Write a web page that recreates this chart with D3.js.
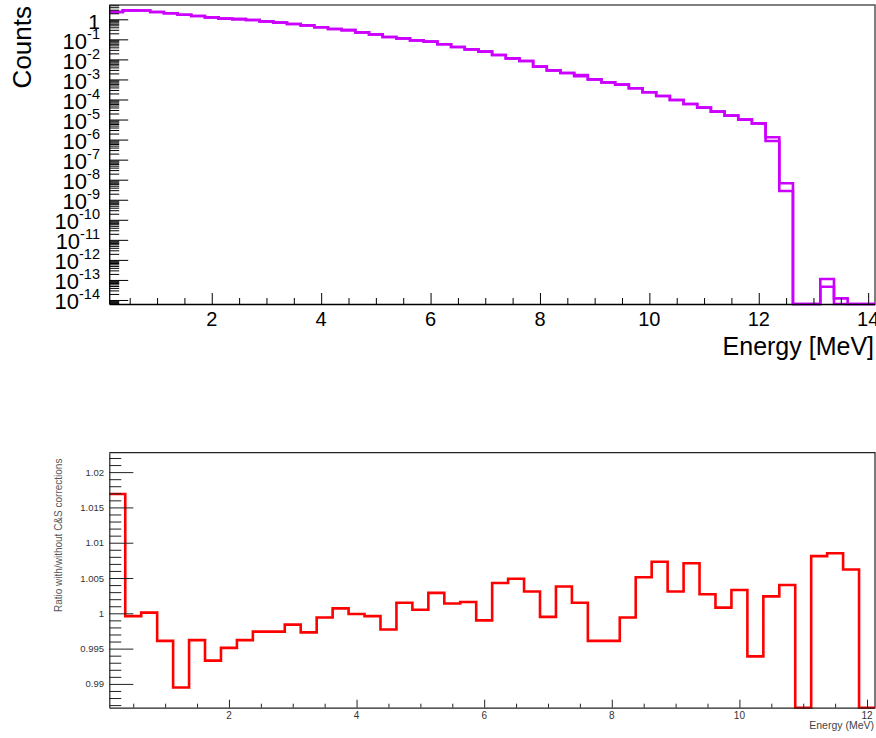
<!DOCTYPE html>
<html><head><meta charset="utf-8">
<script src="https://cdn.jsdelivr.net/npm/d3@7"></script>
<style>
body{margin:0;background:#fff}
svg{display:block}
text{font-family:"Liberation Sans",Arial,Helvetica,sans-serif}
</style>
</head><body>
<svg id="c" width="876" height="738"></svg>
<script>
// ---------- DATA ----------
const energyEdges = [0.125,0.375,0.625,0.875,1.125,1.375,1.625,1.875,2.125,2.375,2.625,2.875,3.125,3.375,3.625,3.875,
  4.125,4.375,4.625,4.875,5.125,5.375,5.625,5.875,6.125,6.375,6.625,6.875,7.125,7.375,7.625,7.875,
  8.125,8.375,8.625,8.875,9.125,9.375,9.625,9.875,10.125,10.375,10.625,10.875,11.125,11.375,11.625,11.875,
  12.125,12.375,12.625,12.875,13.125,13.375,13.625,13.875,14.125];

const countsWith = [2.31,2.80,2.75,2.31,1.99,1.70,1.46,1.25,1.08,1.02,
  0.92,0.79,0.68,0.58,0.50,0.40,0.33,0.29,0.224,0.178,
  0.131,0.112,0.0893,0.0766,0.0565,0.0415,0.0318,0.0243,0.0166,0.0113,
  0.0083,0.00434,0.00282,0.00209,0.00166,0.00101,7.18e-4,5.50e-4,3.61e-4,2.28e-4,
  1.50e-4,9.44e-5,5.97e-5,3.92e-5,2.47e-5,1.56e-5,9.86e-6,6.47e-6,1.30e-6,6.6e-9,
  0,0,1.12e-13,1.2e-14,0,0];

const countsWithout = [2.31,2.80,2.75,2.31,1.99,1.70,1.46,1.25,1.08,1.02,
  0.92,0.79,0.68,0.58,0.50,0.40,0.33,0.29,0.224,0.178,
  0.131,0.112,0.0893,0.0766,0.0565,0.0415,0.0318,0.0243,0.0166,0.0113,
  0.0083,0.00434,0.00282,0.00209,0.00145,0.00101,7.18e-4,5.50e-4,3.61e-4,2.28e-4,
  1.50e-4,9.44e-5,5.97e-5,3.92e-5,2.47e-5,1.56e-5,9.86e-6,6.47e-6,8.5e-7,2.75e-9,
  0,0,4.6e-14,0,0,0];

const ratioValues = [1.0169,0.9996,1.0001,0.9961,0.9895,0.9962,0.9933,0.9951,0.9962,0.9974,
  0.9974,0.9984,0.9973,0.9994,1.0007,0.9999,0.9996,0.9977,1.0015,1.0005,
  1.0029,1.0014,1.0016,0.9990,1.0043,1.0049,1.0031,0.9995,1.0038,1.0015,
  0.9961,0.9961,0.9994,1.0051,1.0073,1.0031,1.0071,1.0027,1.0008,1.0033,
  0.9939,1.0024,1.0040,0.9850,1.0081,1.0085,1.0062,0.9850];

const topXTicks = [2,4,6,8,10,12,14];
const topYExponents = [0,-1,-2,-3,-4,-5,-6,-7,-8,-9,-10,-11,-12,-13,-14];
const botXTicks = [2,4,6,8,10,12];
const botYTicks = [0.99,0.995,1,1.005,1.01,1.015,1.02];
const botYTickLabels = ["0.99","0.995","1","1.005","1.01","1.015","1.02"];

const topXLabel = "Energy [MeV]";
const topYLabel = "Counts";
const botXLabel = "Energy (MeV)";
const botYLabel = "Ratio with/without C&S corrections";

// ---------- LAYOUT ----------
const svg = d3.select("#c");
const T = {l:109.2, r:875, t:5, b:304};
const B = {l:109.3, r:875, t:452.7, b:707.7};

const xTop = d3.scaleLinear().domain([0.125,14.125]).range([T.l,T.r]);
const yTop = d3.scaleLog().domain([6.3e-15,5.17]).range([T.b,T.t]).clamp(true);
const xBot = d3.scaleLinear().domain([0.125,12.125]).range([B.l,B.r]);
const yBot = d3.scaleLinear().domain([0.98663,1.02275]).range([B.b,B.t]).clamp(true);

function stepPath(edges, vals, x, yf){
  let d = `M${x(edges[0])},${yf(vals[0])}`;
  for(let i=0;i<vals.length;i++){
    d += `H${x(edges[i+1])}`;
    if(i+1<vals.length) d += `V${yf(vals[i+1])}`;
  }
  return d;
}

// ===== TOP PANEL =====
const gT = svg.append("g");
// frame top/right
gT.append("path").attr("d",`M${T.l},${T.t}H${T.r}V${T.b}`).attr("fill","none").attr("stroke","#555").attr("stroke-width",1.5);

// histograms
const yTopF = v => v>0 ? yTop(v) : T.b;
[countsWith,countsWithout].forEach(vals=>{
  gT.append("path").attr("d",stepPath(energyEdges,vals,xTop,yTopF))
    .attr("fill","none").attr("stroke","#cc00ff").attr("stroke-width",2.6);
});

// x axis ticks (pointing up)
const topXMinor = d3.range(0.5,14.01,0.5).filter(v=>v%2!==0);
gT.append("g").attr("transform",`translate(0,${T.b})`)
  .call(d3.axisTop(xTop).tickValues(topXMinor).tickSize(6).tickSizeOuter(0).tickFormat(""))
  .call(g=>{g.select(".domain").remove();g.selectAll("line").attr("stroke","#000");});
gT.append("g").attr("transform",`translate(0,${T.b})`)
  .call(d3.axisTop(xTop).tickValues(topXTicks).tickSize(11).tickSizeOuter(0).tickFormat(""))
  .call(g=>{g.select(".domain").attr("stroke","#000").attr("stroke-width",1.3);g.selectAll("line").attr("stroke","#000");});
gT.selectAll(".xlab").data(topXTicks).join("text")
  .attr("x",d=>xTop(d)).attr("y",326).attr("text-anchor","middle")
  .attr("font-size",20).attr("fill","#000").text(d=>d);
gT.append("text").attr("x",874).attr("y",355).attr("text-anchor","end")
  .attr("font-size",25).attr("fill","#000").text(topXLabel);

// y axis ticks (pointing right)
const yMinor = [];
for(let e=-15;e<=0;e++) for(let m=2;m<=9;m++){const v=m*Math.pow(10,e); if(v>=6.3e-15&&v<=5.17) yMinor.push(v);}
const yMajor = topYExponents.map(e=>Math.pow(10,e));
gT.append("g").attr("transform",`translate(${T.l},0)`)
  .call(d3.axisRight(yTop).tickValues(yMinor).tickSize(10).tickSizeOuter(0).tickFormat(""))
  .call(g=>{g.select(".domain").remove();g.selectAll("line").attr("stroke","#000");});
gT.append("g").attr("transform",`translate(${T.l},0)`)
  .call(d3.axisRight(yTop).tickValues(yMajor).tickSize(19).tickSizeOuter(0).tickFormat(""))
  .call(g=>{g.select(".domain").attr("stroke","#000").attr("stroke-width",1.3);g.selectAll("line").attr("stroke","#000");});

topYExponents.forEach(e=>{
  const yy = yTop(Math.pow(10,e));
  const t = gT.append("text").attr("x",100).attr("y",yy+9.5).attr("text-anchor","end").attr("fill","#000");
  if(e===0){ t.attr("font-size",21).text("1"); }
  else {
    t.append("tspan").attr("font-size",22).text("10");
    t.append("tspan").attr("font-size",14.5).attr("dy",-10).text(String(e));
  }
});
gT.append("text").attr("transform","translate(31,6) rotate(-90)").attr("text-anchor","end")
  .attr("font-size",26).attr("fill","#000").text(topYLabel);

// ===== BOTTOM PANEL =====
const gB = svg.append("g");
gB.append("path").attr("d",`M${B.l},${B.t}H${B.r}V${B.b}`).attr("fill","none").attr("stroke","#222").attr("stroke-width",1.2);

gB.append("path").attr("d",stepPath(energyEdges.slice(0,ratioValues.length+1),ratioValues,xBot,yBot))
  .attr("fill","none").attr("stroke","#ff0000").attr("stroke-width",2.6);

const botXMinor = d3.range(0.5,12.01,0.5).filter(v=>v%2!==0);
gB.append("g").attr("transform",`translate(0,${B.b})`)
  .call(d3.axisTop(xBot).tickValues(botXMinor).tickSize(4).tickSizeOuter(0).tickFormat(""))
  .call(g=>{g.select(".domain").remove();g.selectAll("line").attr("stroke","#222");});
gB.append("g").attr("transform",`translate(0,${B.b})`)
  .call(d3.axisTop(xBot).tickValues(botXTicks).tickSize(8).tickSizeOuter(0).tickFormat(""))
  .call(g=>{g.select(".domain").attr("stroke","#222").attr("stroke-width",1.2);g.selectAll("line").attr("stroke","#222");});
gB.selectAll(".bxl").data(botXTicks).join("text")
  .attr("x",d=>xBot(d)).attr("y",719).attr("text-anchor","middle")
  .attr("font-size",10).attr("fill","#333").text(d=>d);
gB.append("text").attr("x",874).attr("y",729).attr("text-anchor","end")
  .attr("font-size",10.5).attr("fill","#444").text(botXLabel);

const botYMinor = d3.range(0.987,1.0225,0.001).filter(v=>Math.abs(Math.round(v*200)-v*200)>1e-6);
gB.append("g").attr("transform",`translate(${B.l},0)`)
  .call(d3.axisRight(yBot).tickValues(botYMinor).tickSize(12).tickSizeOuter(0).tickFormat(""))
  .call(g=>{g.select(".domain").remove();g.selectAll("line").attr("stroke","#222");});
gB.append("g").attr("transform",`translate(${B.l},0)`)
  .call(d3.axisRight(yBot).tickValues(botYTicks).tickSize(24).tickSizeOuter(0).tickFormat(""))
  .call(g=>{g.select(".domain").attr("stroke","#222").attr("stroke-width",1.2);g.selectAll("line").attr("stroke","#222");});
gB.selectAll(".byl").data(botYTicks).join("text")
  .attr("x",104).attr("y",d=>yBot(d)+3.5).attr("text-anchor","end")
  .attr("font-size",9.5).attr("fill","#333").text((d,i)=>botYTickLabels[i]);
gB.append("text").attr("transform","translate(62,612) rotate(-90)").attr("text-anchor","start")
  .attr("font-size",10).attr("fill","#555").text(botYLabel);
</script>
</body></html>
